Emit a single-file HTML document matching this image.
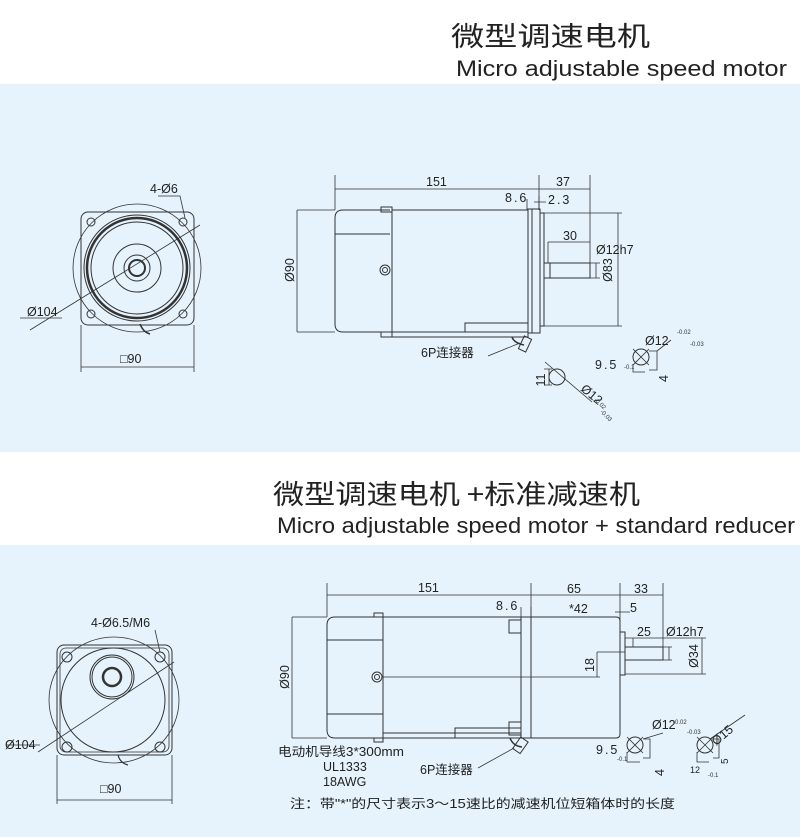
<!DOCTYPE html>
<html><head><meta charset="utf-8"><style>
body{margin:0;background:#fff;}
svg{display:block;font-family:"Liberation Sans","Noto Sans CJK SC",sans-serif;}
</style></head><body>
<svg width="800" height="837" viewBox="0 0 800 837" xmlns="http://www.w3.org/2000/svg">
<rect x="0" y="84" width="800" height="368" fill="#e6f3fc"/>
<rect x="0" y="545" width="800" height="292" fill="#e6f3fc"/>
<text x="451" y="46" font-size="27" fill="#222" font-family="'Noto Sans CJK SC',sans-serif" textLength="199" lengthAdjust="spacingAndGlyphs">微型调速电机</text>
<text x="456" y="76" font-size="22" fill="#222" textLength="331" lengthAdjust="spacingAndGlyphs">Micro adjustable speed motor</text>
<text x="273" y="504" font-size="27" fill="#222" font-family="'Noto Sans CJK SC',sans-serif" textLength="367" lengthAdjust="spacingAndGlyphs">微型调速电机 +标准减速机</text>
<text x="277" y="533" font-size="22" fill="#222" textLength="518" lengthAdjust="spacingAndGlyphs">Micro adjustable speed motor + standard reducer</text>

<g fill="none" stroke="#333" stroke-width="1">
<rect x="81" y="212" width="113" height="113" rx="7"/>
<circle cx="137" cy="268" r="64" stroke-width="0.8"/>
<circle cx="137" cy="268" r="53"/>
<circle cx="137" cy="268" r="50" stroke-width="2.5"/>
<circle cx="137" cy="268" r="46"/>
<circle cx="137" cy="268" r="24"/>
<circle cx="137" cy="268" r="13"/>
<circle cx="137" cy="268" r="8" stroke-width="2"/>
<circle cx="91" cy="222" r="4"/><circle cx="183" cy="222" r="4"/>
<circle cx="91" cy="314" r="4"/><circle cx="183" cy="314" r="4"/>
<path d="M158 196 H180 L185 218" stroke-width="0.8"/>
<path d="M30 330 L200 225" stroke-width="0.8"/>
<path d="M20 318 H62" stroke-width="0.8"/>
<path d="M140 324 q3 8 10 10" stroke-width="1.5"/>
<path d="M81 325 V372 M194 325 V372 M81 367 H194" stroke-width="0.8"/>
<path d="M335 175 V210 M539 175 V210 M590 175 V263 M335 189 H539 M539 189 H590" stroke-width="0.8"/>
<path d="M297 210 V332 M297 210 H335 M297 332 H335" stroke-width="0.8"/>
<path d="M390 210 H343 Q335 210 335 218 V324 Q335 332 343 332 H390" />
<path d="M335 234 H390"/>
<rect x="381" y="207" width="11" height="5"/>
<rect x="381" y="332" width="11" height="5"/>
<rect x="392" y="210" width="136" height="122"/>
<rect x="392" y="332" width="136" height="5"/>
<path d="M465 332 V323 H528"/>
<circle cx="385" cy="270" r="5"/><circle cx="385" cy="270" r="2.5"/>
<rect x="528" y="209" width="12" height="124"/>
<path d="M532 209 V333"/>
<rect x="540" y="213" width="4" height="113"/>
<path d="M544 263 H590 V278 H544 M550 263 V278"/>
<path d="M548 242 H590 M548 242 V263" stroke-width="0.8"/>
<path d="M590 263 H600 M590 278 H600 M596 263 V278" stroke-width="0.8"/>
<path d="M544 213 H622 M544 326 H622 M618 213 V326" stroke-width="0.8"/>
<path d="M512 337 q2 6 12 8" stroke-width="1.5"/>
<rect x="521" y="337" width="8" height="14" transform="rotate(25 525 344)"/>
<path d="M488 356 L520 343" stroke-width="0.8"/>
<path d="M527 199 V210 M534 202 H546 M539 196 V210" stroke-width="0.8"/>
<circle cx="557" cy="377" r="8"/>
<path d="M549 369 V385 M544 369 H552 M544 385 H552 M545 362 L592 402" stroke-width="0.8"/>
<circle cx="641" cy="357" r="8"/>
<path d="M633 349 L649 365 M633 365 L649 349 M649 351 H657 V370 H649 M633 364 V372 H645 M657 351 L671 340" stroke-width="0.8"/>

<rect x="57" y="645" width="115" height="110" rx="7"/>
<rect x="60" y="648" width="109" height="104" rx="6" stroke-width="0.8"/>
<ellipse cx="114" cy="700" rx="65" ry="63" stroke-width="0.8"/>
<circle cx="113" cy="700" r="52"/>
<circle cx="112" cy="677" r="22"/><circle cx="112" cy="677" r="20"/>
<circle cx="112" cy="677" r="9" stroke-width="2.5"/>
<circle cx="67" cy="657" r="5"/><circle cx="160" cy="657" r="5"/>
<circle cx="67" cy="747" r="5"/><circle cx="160" cy="747" r="5"/>
<path d="M155 630 L160 652" stroke-width="0.8"/>
<path d="M38 752 L174 662 M6 745 H40" stroke-width="0.8"/>
<path d="M118 755 q2 8 10 10" stroke-width="1.2"/>
<path d="M57 755 V804 M172 755 V804 M57 800 H172" stroke-width="0.8"/>
<path d="M327 583 V617 M531 583 V617 M620 583 V650 M663 583 V647 M327 595 H663" stroke-width="0.8"/>
<path d="M292 617 V738 M292 617 H327 M292 738 H327" stroke-width="0.8"/>
<path d="M383 617 H335 Q327 617 327 625 V730 Q327 738 335 738 H383"/>
<path d="M327 640 H383 M327 714 H383"/>
<rect x="374" y="613" width="9" height="4"/><rect x="374" y="738" width="9" height="4"/>
<rect x="383" y="617" width="138" height="121"/>
<path d="M455 738 V728 H521 M383 733 H521"/>
<circle cx="377" cy="677" r="5"/><circle cx="377" cy="677" r="2.5"/>
<path d="M383 677 H600 M597 652 V677 M597 652 H625" stroke-width="0.8"/>
<rect x="509" y="620" width="12" height="13"/><rect x="509" y="722" width="12" height="13"/>
<rect x="521" y="617" width="10" height="121"/>
<path d="M531 617 H616 Q620 617 620 621 V734 Q620 738 616 738 H531"/>
<rect x="620" y="632" width="5" height="43"/>
<path d="M625 647 H663 V660 H625"/>
<path d="M633 638 H663 M633 638 V647 M625 638 H706 M625 674 H706 M702 638 V674" stroke-width="0.8"/>
<path d="M663 647 H672 M663 660 H672 M669 647 V660" stroke-width="0.8"/>
<path d="M510 738 q3 8 12 9" stroke-width="1.5"/>
<rect x="516" y="738" width="9" height="14" transform="rotate(35 520 745)"/>
<path d="M478 768 L514 748" stroke-width="0.8"/>
<path d="M521 607 V617 M531 607 V617 M615 612 H630" stroke-width="0.8"/>
<circle cx="635" cy="745" r="8"/>
<path d="M627 737 L643 753 M627 753 L643 737 M643 739 H650 V758 H643 M627 752 V762 H640 M643 739 L663 733" stroke-width="0.8"/>
<circle cx="705" cy="745" r="8"/>
<path d="M697 737 L713 753 M697 753 L713 737 M713 739 H719 V758 H713 M697 752 V762 H709 M710 739 L745 715" stroke-width="0.8"/>
</g>

<g fill="#222" font-size="12.5">
<text x="150" y="193">4-Ø6</text>
<text x="27" y="316">Ø104</text>
<text x="120" y="363">□90</text>
<text x="426" y="186">151</text>
<text x="556" y="186">37</text>
<text x="505" y="202" letter-spacing="2">8.6</text>
<text x="548" y="204" letter-spacing="2">2.3</text>
<text x="563" y="240">30</text>
<text x="596" y="254">Ø12h7</text>
<text transform="translate(612,270) rotate(-90)" text-anchor="middle">Ø83</text>
<text transform="translate(294,270) rotate(-90)" text-anchor="middle">Ø90</text>
<text x="421" y="357">6P连接器</text>
<text transform="translate(545,380) rotate(-90)" text-anchor="middle">11</text>
<text transform="translate(580,390) rotate(40)">Ø12</text>
<text x="595" y="369" letter-spacing="2">9.5</text>
<text x="645" y="345">Ø12</text>
<text transform="translate(668,382) rotate(-90)">4</text>
<text x="91" y="627">4-Ø6.5/M6</text>
<text x="5" y="749">Ø104</text>
<text x="100" y="793">□90</text>
<text x="418" y="592">151</text>
<text x="567" y="593">65</text>
<text x="634" y="593">33</text>
<text x="496" y="610" letter-spacing="2">8.6</text>
<text x="569" y="613">*42</text>
<text x="630" y="612">5</text>
<text x="637" y="636">25</text>
<text x="666" y="636">Ø12h7</text>
<text transform="translate(698,656) rotate(-90)" text-anchor="middle">Ø34</text>
<text transform="translate(594,665) rotate(-90)" text-anchor="middle">18</text>
<text transform="translate(289,677) rotate(-90)" text-anchor="middle">Ø90</text>
<text x="278" y="756" textLength="126" lengthAdjust="spacingAndGlyphs">电动机导线3*300mm</text>
<text x="323" y="771">UL1333</text>
<text x="323" y="786">18AWG</text>
<text x="420" y="774">6P连接器</text>
<text x="596" y="754" letter-spacing="2">9.5</text>
<text x="652" y="729">Ø12</text>
<text transform="translate(664,776) rotate(-90)">4</text>
<text transform="translate(716,746) rotate(-40)">Ø15</text>
<text x="690" y="773" font-size="9">12</text>
<text transform="translate(728,764) rotate(-90)" font-size="10">5</text>
<text x="290" y="808" textLength="385" lengthAdjust="spacingAndGlyphs">注：带"*"的尺寸表示3～15速比的减速机位短箱体时的长度</text>
</g>
<g fill="#333" font-size="6">
<text x="677" y="334">-0.02</text><text x="690" y="346">-0.03</text>
<text x="624" y="369">-0.1</text>
<text x="673" y="724">-0.02</text>
<text x="617" y="761">-0.1</text>
<text x="687" y="734">-0.03</text>
<text x="708" y="777">-0.1</text>
<text transform="translate(594,400) rotate(45)">-0.02</text>
<text transform="translate(600,412) rotate(45)">-0.03</text>
</g>
</svg>
</body></html>
